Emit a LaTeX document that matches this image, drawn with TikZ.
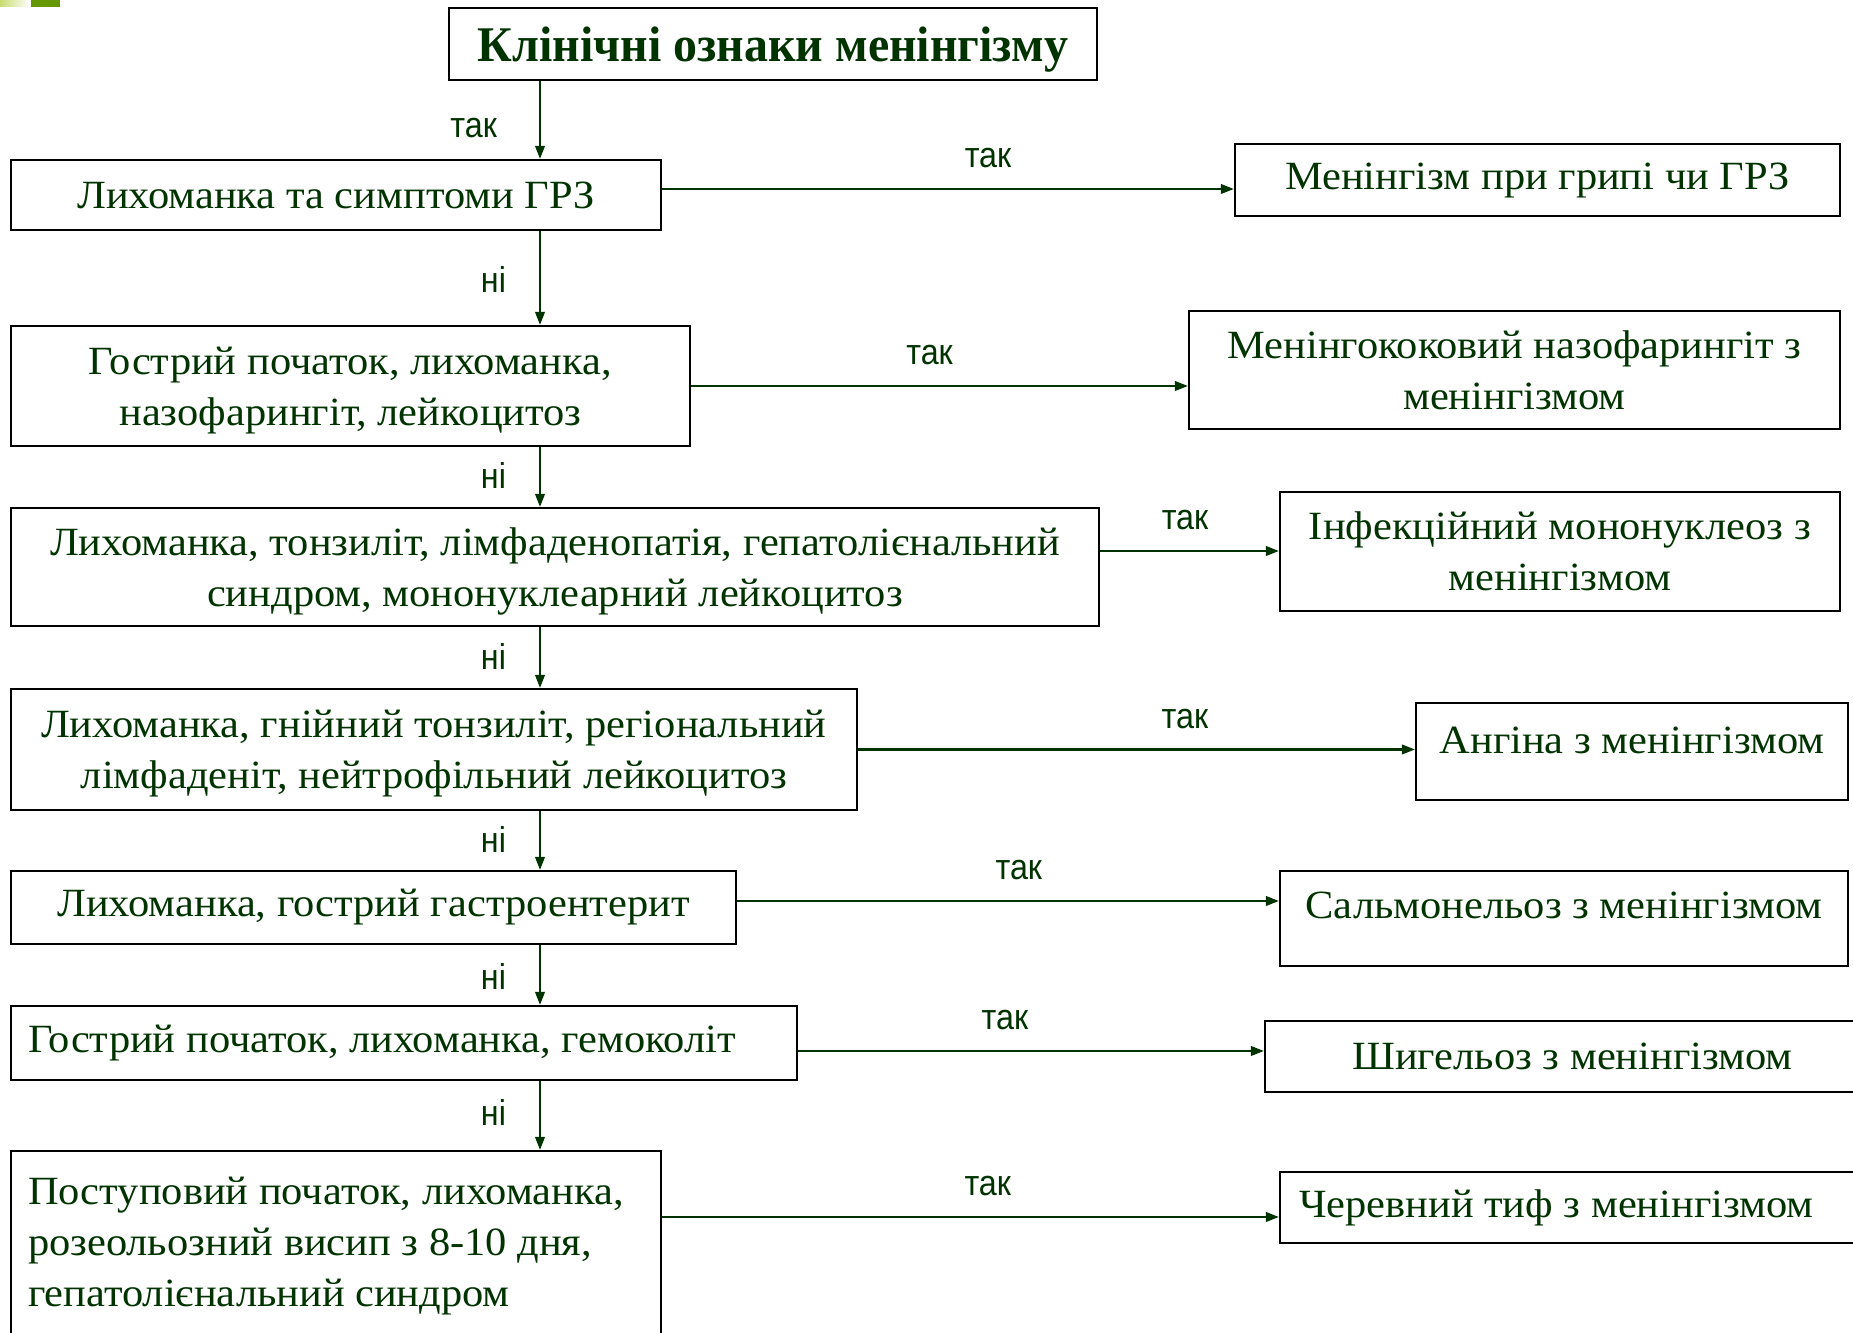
\documentclass[tikz,border=0pt]{standalone}
\usepackage{fontspec}
\setmainfont{Liberation Serif}
\newfontfamily\chartserif{Liberation Serif}[FakeStretch=1.06]
\newfontfamily\charttitle{Liberation Serif}[FakeStretch=0.96]
\newfontfamily\chartsans{Liberation Sans}[FakeStretch=0.9]
\usetikzlibrary{arrows.meta}
\definecolor{ink}{RGB}{0,51,0}
\definecolor{leaf}{RGB}{102,153,0}
\definecolor{leaflight}{RGB}{200,220,110}
\tikzset{
  chart/box/.style={draw=black, line width=0.6pt, inner sep=0pt, text=ink, align=center,
    font=\chartserif\fontsize{11.4}{14.5}\selectfont},
  chart/arrow/.style={draw=ink, line width=0.6pt, -{Triangle[length=1.3mm, width=0.95mm]}},
  chart/label/.style={text=ink, inner sep=0pt, font=\chartsans\fontsize{10.2}{12}\selectfont}
}

\begin{document}
\begin{tikzpicture}[x=0.1mm, y=-0.1mm]
  \useasboundingbox (0,0) rectangle (1853,1333);
  \clip (0,0) rectangle (1853,1333);
  \shade[left color=leaflight, right color=white] (0,0) rectangle (30,7);
  \fill[leaf] (31,0) rectangle (60,7);
  \coordinate (spine) at (540,0);

  \node[chart/box, minimum width=64.8mm, minimum height=7.2mm, text height=4.6mm,
        font=\charttitle\bfseries\fontsize{14.2}{17}\selectfont] (title) at (773,44) {Клінічні ознаки менінгізму};

  \node[chart/box, minimum width=65mm, minimum height=7mm] (b1) at (336,195) {Лихоманка та симптоми ГРЗ};
  \node[chart/box, minimum width=67.9mm, minimum height=12mm, text depth=0pt] (b2) at (350.5,386) {Гострий початок, лихоманка,\\назофарингіт, лейкоцитоз};
  \node[chart/box, minimum width=108.8mm, minimum height=11.8mm, text depth=0pt] (b3) at (555,567) {Лихоманка, тонзиліт, лімфаденопатія, гепатолієнальний\\синдром, мононуклеарний лейкоцитоз};
  \node[chart/box, minimum width=84.6mm, minimum height=12.1mm, text depth=0pt] (b4) at (434,749.5) {Лихоманка, гнійний тонзиліт, регіональний\\лімфаденіт, нейтрофільний лейкоцитоз};
  \node[chart/box, minimum width=72.5mm, minimum height=7.3mm] (b5) at (373.5,907.5) {Лихоманка, гострий гастроентерит};
  \node[chart/box, align=flush left, text width=75.2mm, inner xsep=1.7mm, minimum height=7.4mm] (b6) at (404,1043) {Гострий початок, лихоманка, гемоколіт};
  \node[chart/box, align=flush left, text width=61.6mm, inner xsep=1.7mm, minimum height=19mm] (b7) at (336,1246) {Поступовий початок, лихоманка,\\розеольозний висип з 8-10 дня,\\гепатолієнальний синдром};

  \node[chart/box, minimum width=60.5mm, minimum height=7.2mm] (r1) at (1537.5,180) {Менінгізм при грипі чи ГРЗ};
  \node[chart/box, minimum width=65.1mm, minimum height=11.8mm] (r2) at (1514.5,370) {Менінгококовий назофарингіт з\\менінгізмом};
  \node[chart/box, minimum width=56mm, minimum height=11.9mm] (r3) at (1560,551.5) {Інфекційний мононуклеоз з\\менінгізмом};
  \node[chart/box, minimum width=43.2mm, minimum height=9.7mm, text depth=2.2mm] (r4) at (1632,751.5) {Ангіна з менінгізмом};
  \node[chart/box, minimum width=56.8mm, minimum height=9.5mm, text depth=2.6mm] (r5) at (1564,918.5) {Сальмонельоз з менінгізмом};
  \node[chart/box, minimum width=61.5mm, minimum height=7.1mm] (r6) at (1572.5,1056.5) {Шигельоз з менінгізмом};
  \node[chart/box, align=flush left, text width=56.2mm, inner xsep=1.9mm, minimum height=7.1mm] (r7) at (1580,1207.5) {Черевний тиф з менінгізмом};

  % main line, downwards
  \draw[chart/arrow] (title.south -| spine) -- (b1.north -| spine) node[chart/label, pos=0.6, left=4.2mm] {так};
  \draw[chart/arrow] (b1.south -| spine) -- (b2.north -| spine) node[chart/label, pos=0.52, left=3.3mm] {ні};
  \draw[chart/arrow] (b2.south -| spine) -- (b3.north -| spine) node[chart/label, pos=0.48, left=3.3mm] {ні};
  \draw[chart/arrow] (b3.south -| spine) -- (b4.north -| spine) node[chart/label, pos=0.49, left=3.3mm] {ні};
  \draw[chart/arrow] (b4.south -| spine) -- (b5.north -| spine) node[chart/label, pos=0.48, left=3.3mm] {ні};
  \draw[chart/arrow] (b5.south -| spine) -- (b6.north -| spine) node[chart/label, pos=0.52, left=3.3mm] {ні};
  \draw[chart/arrow] (b6.south -| spine) -- (b7.north -| spine) node[chart/label, pos=0.45, left=3.3mm] {ні};

  % side branches
  \draw[chart/arrow] ([yshift=0.6mm]b1.east) -- ([yshift=0.6mm]b1.east -| r1.west) node[chart/label, pos=0.57, above=2mm] {так};
  \draw[chart/arrow] (b2.east) -- (b2.east -| r2.west) node[chart/label, pos=0.48, above=2mm] {так};
  \draw[chart/arrow] ([yshift=1.6mm]b3.east) -- ([yshift=1.6mm]b3.east -| r3.west) node[chart/label, pos=0.475, above=2mm] {так};
  \draw[chart/arrow] (b4.east) -- (b4.east -| r4.west) node[chart/label, pos=0.587, above=2mm] {так};
  \draw[chart/arrow] ([yshift=0.65mm]b5.east) -- ([yshift=0.65mm]b5.east -| r5.west) node[chart/label, pos=0.52, above=2mm] {так};
  \draw[chart/arrow] ([yshift=-0.8mm]b6.east) -- ([yshift=-0.8mm]b6.east -| r6.west) node[chart/label, pos=0.444, above=2mm] {так};
  \draw[chart/arrow] ([yshift=2.9mm]b7.east) -- ([yshift=2.9mm]b7.east -| r7.west) node[chart/label, pos=0.528, above=2mm] {так};
\end{tikzpicture}
\end{document}
